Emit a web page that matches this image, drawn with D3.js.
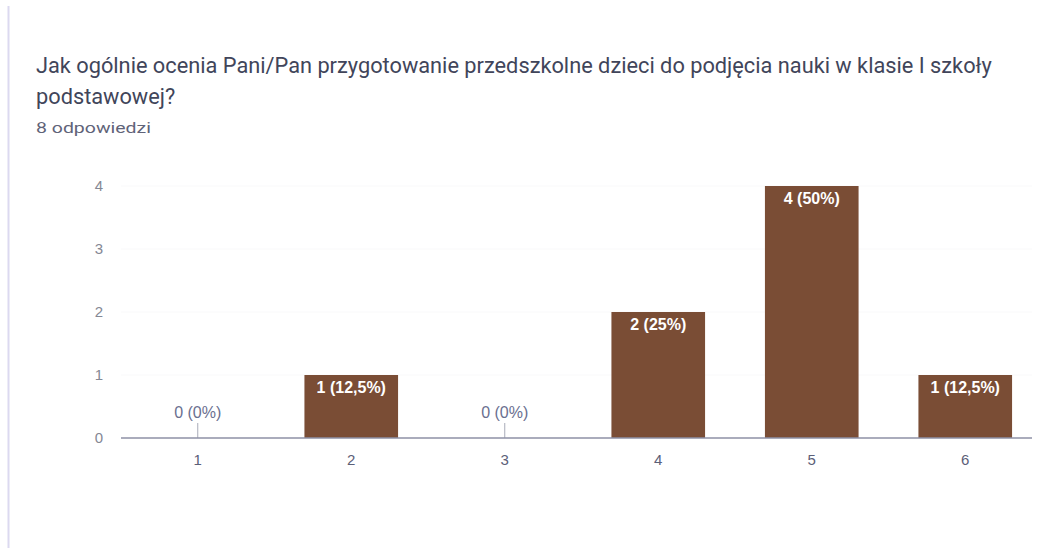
<!DOCTYPE html>
<html>
<head>
<meta charset="utf-8">
<script src="https://cdn.jsdelivr.net/npm/d3@7"></script>
<style>
  body { margin: 0; background: #fff; }
  svg text { font-family: Roboto, "Noto Sans", sans-serif; }
</style>
</head>
<body>
<div id="chart"></div>
<script>
// chart data
var categories = ["1", "2", "3", "4", "5", "6"];
var counts = [0, 1, 0, 2, 4, 1];
var labels = ["0 (0%)", "1 (12,5%)", "0 (0%)", "2 (25%)", "4 (50%)", "1 (12,5%)"];
var yTicks = [0, 1, 2, 3, 4];
var titleLines = [
  "Jak ogólnie ocenia Pani/Pan przygotowanie przedszkolne dzieci do podjęcia nauki w klasie I szkoły",
  "podstawowej?"
];
var subtitle = "8 odpowiedzi";

var svgWidth = 1038;
var svgHeight = 548;
var chartFont = "'Liberation Sans', Arial, sans-serif";

var svg = d3.select("#chart")
  .append("svg")
  .attr("width", svgWidth)
  .attr("height", svgHeight);

// left card border
svg.append("line")
  .attr("x1", 8.5).attr("x2", 8.5)
  .attr("y1", 6).attr("y2", svgHeight)
  .attr("stroke", "#dcd9f0")
  .attr("stroke-width", 2);

// title
var title = svg.append("g");
title.selectAll("text")
  .data(titleLines)
  .enter()
  .append("text")
  .attr("x", 36)
  .attr("y", (d, i) => 73 + i * 31)
  .attr("font-size", 18)
  .attr("fill", "#41455a")
  .text(d => d);

// fit first line to its width in the picture
var first = title.select("text").node();
var len = first.getComputedTextLength();
var fs = 18 * 956 / len;
title.selectAll("text").attr("font-size", fs);

svg.append("text")
  .attr("x", 36)
  .attr("y", 133)
  .attr("font-size", 14)
  .attr("textLength", 115)
  .attr("lengthAdjust", "spacingAndGlyphs")
  .attr("fill", "#5f6378")
  .text(subtitle);

// scales
var x = d3.scaleBand()
  .domain(categories)
  .range([121, 1042])
  .paddingInner(0.39)
  .paddingOuter(0.195);

var y = d3.scaleLinear()
  .domain([0, 4])
  .range([438, 186]);

// faint grid
svg.selectAll(".grid")
  .data(yTicks.slice(1))
  .enter()
  .append("line")
  .attr("class", "grid")
  .attr("x1", 121).attr("x2", 1032)
  .attr("y1", d => y(d)).attr("y2", d => y(d))
  .attr("stroke", "#f9f9fa");

// y axis labels
var leftAxis = d3.axisLeft(y)
  .tickValues(yTicks)
  .tickFormat(d3.format("d"))
  .tickSize(0)
  .tickPadding(0);
var yAxis = svg.append("g")
  .attr("transform", "translate(103,0)")
  .call(leftAxis);
yAxis.select(".domain").remove();
yAxis.selectAll("text")
  .attr("font-size", 15)
  .attr("fill", "#858894")
  .style("font-family", chartFont);

// bars
svg.selectAll(".bar")
  .data(counts)
  .enter()
  .append("rect")
  .attr("class", "bar")
  .attr("x", (d, i) => x(categories[i]))
  .attr("width", x.bandwidth())
  .attr("y", d => y(d))
  .attr("height", d => y(0) - y(d))
  .attr("fill", "#7a4d35");

// small stems for zero bars
counts.forEach(function(d, i) {
  if (d === 0) {
    var cx = x(categories[i]) + x.bandwidth() / 2;
    svg.append("line")
      .attr("x1", cx).attr("x2", cx)
      .attr("y1", y(0) - 15).attr("y2", y(0))
      .attr("stroke", "#a8abb8")
      .attr("stroke-width", 1);
  }
});

// x axis
var bottomAxis = d3.axisBottom(x).tickSize(0).tickPadding(16);
var xAxis = svg.append("g")
  .attr("transform", `translate(0, ${y(0)})`)
  .call(bottomAxis);
xAxis.select(".domain").remove();
xAxis.selectAll("text")
  .attr("font-size", 15)
  .attr("fill", "#5c6078")
  .style("font-family", chartFont);

svg.append("line")
  .attr("x1", 121).attr("x2", 1032)
  .attr("y1", y(0)).attr("y2", y(0))
  .attr("stroke", "#8e91a6")
  .attr("stroke-width", 1.5);

// value labels
svg.selectAll(".val")
  .data(counts)
  .enter()
  .append("text")
  .attr("class", "val")
  .attr("x", (d, i) => x(categories[i]) + x.bandwidth() / 2)
  .attr("y", d => d === 0 ? y(0) - 20 : y(d) + 18)
  .attr("text-anchor", "middle")
  .attr("font-size", 16)
  .attr("font-weight", d => d === 0 ? "normal" : "bold")
  .attr("fill", d => d === 0 ? "#6a6f90" : "#ffffff")
  .style("font-family", chartFont)
  .text((d, i) => labels[i]);
</script>
</body>
</html>
